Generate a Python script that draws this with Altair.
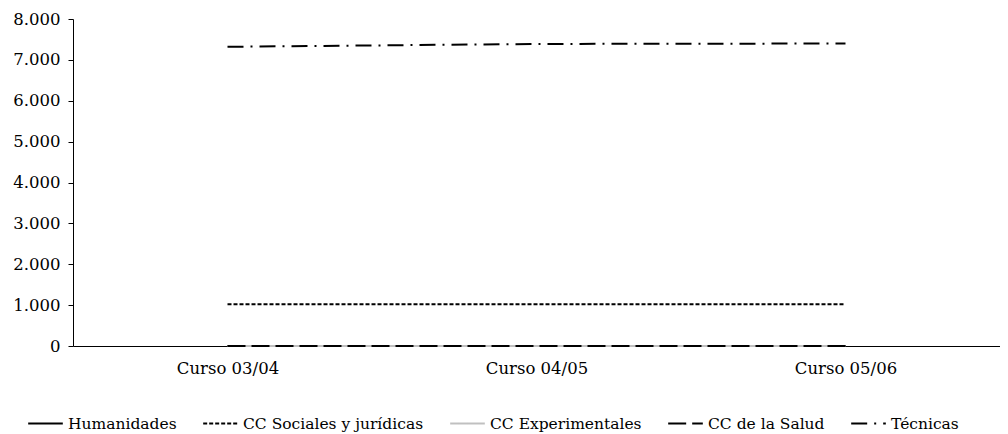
import altair as alt
import pandas as pd

cursos = ["Curso 03/04", "Curso 04/05", "Curso 05/06"]
series = ["Humanidades", "CC Sociales y jurídicas", "CC Experimentales", "CC de la Salud", "Técnicas"]
humanidades = [0, 0, 0]
sociales = [1020, 1020, 1020]
experimentales = [0, 0, 0]
salud = [0, 0, 0]
tecnicas = [7320, 7390, 7400]

colors = ["#000000", "#000000", "#c0c0c0", "#000000", "#000000"]
dashes = [[1, 0], [4, 2], [1, 0], [18, 6], [16, 7, 2, 7]]

rows = []
for s, vals in zip(series, [humanidades, sociales, experimentales, salud, tecnicas]):
    for c, v in zip(cursos, vals):
        rows.append({"curso": c, "serie": s, "valor": v, "orden": series.index(s)})
df = pd.DataFrame(rows)

FONT = "DejaVu Serif"

chart = alt.Chart(df).mark_line(strokeWidth=2).encode(
    x=alt.X("curso:N", sort=cursos, title=None,
            scale=alt.Scale(type="point", padding=0.5),
            axis=alt.Axis(labelAngle=0, ticks=False, domainColor="#000", labelPadding=14)),
    y=alt.Y("valor:Q", title=None,
            scale=alt.Scale(domain=[0, 8000], nice=False),
            axis=alt.Axis(values=list(range(0, 8001, 1000)), grid=False, domainColor="#000",
                          tickColor="#000", tickSize=5, labelPadding=8,
                          labelExpr="replace(format(datum.value, ','), ',', '.')")),
    color=alt.Color("serie:N", sort=series,
                    scale=alt.Scale(domain=series, range=colors),
                    legend=alt.Legend(title=None, orient="none", direction="horizontal",
                                      legendX=-46, legendY=386,
                                      symbolType="stroke", symbolSize=1200, symbolStrokeWidth=2,
                                      columnPadding=22, labelFontSize=15.5, labelFont=FONT,
                                      labelColor="#000", labelLimit=0)),
    strokeDash=alt.StrokeDash("serie:N", sort=series,
                              scale=alt.Scale(domain=series, range=dashes),
                              legend=alt.Legend(title=None)),
    order="orden:Q",
    detail="serie:N",
).properties(
    width=927, height=327, padding={"left": 4, "top": 3, "right": 0, "bottom": 0}
).configure_axis(
    labelFont=FONT, labelFontSize=16.5, labelColor="#000"
).configure_legend(
    labelFont=FONT
).configure_view(stroke=None)

chart.save("out.html", embed_options={"renderer": "svg", "actions": False})
